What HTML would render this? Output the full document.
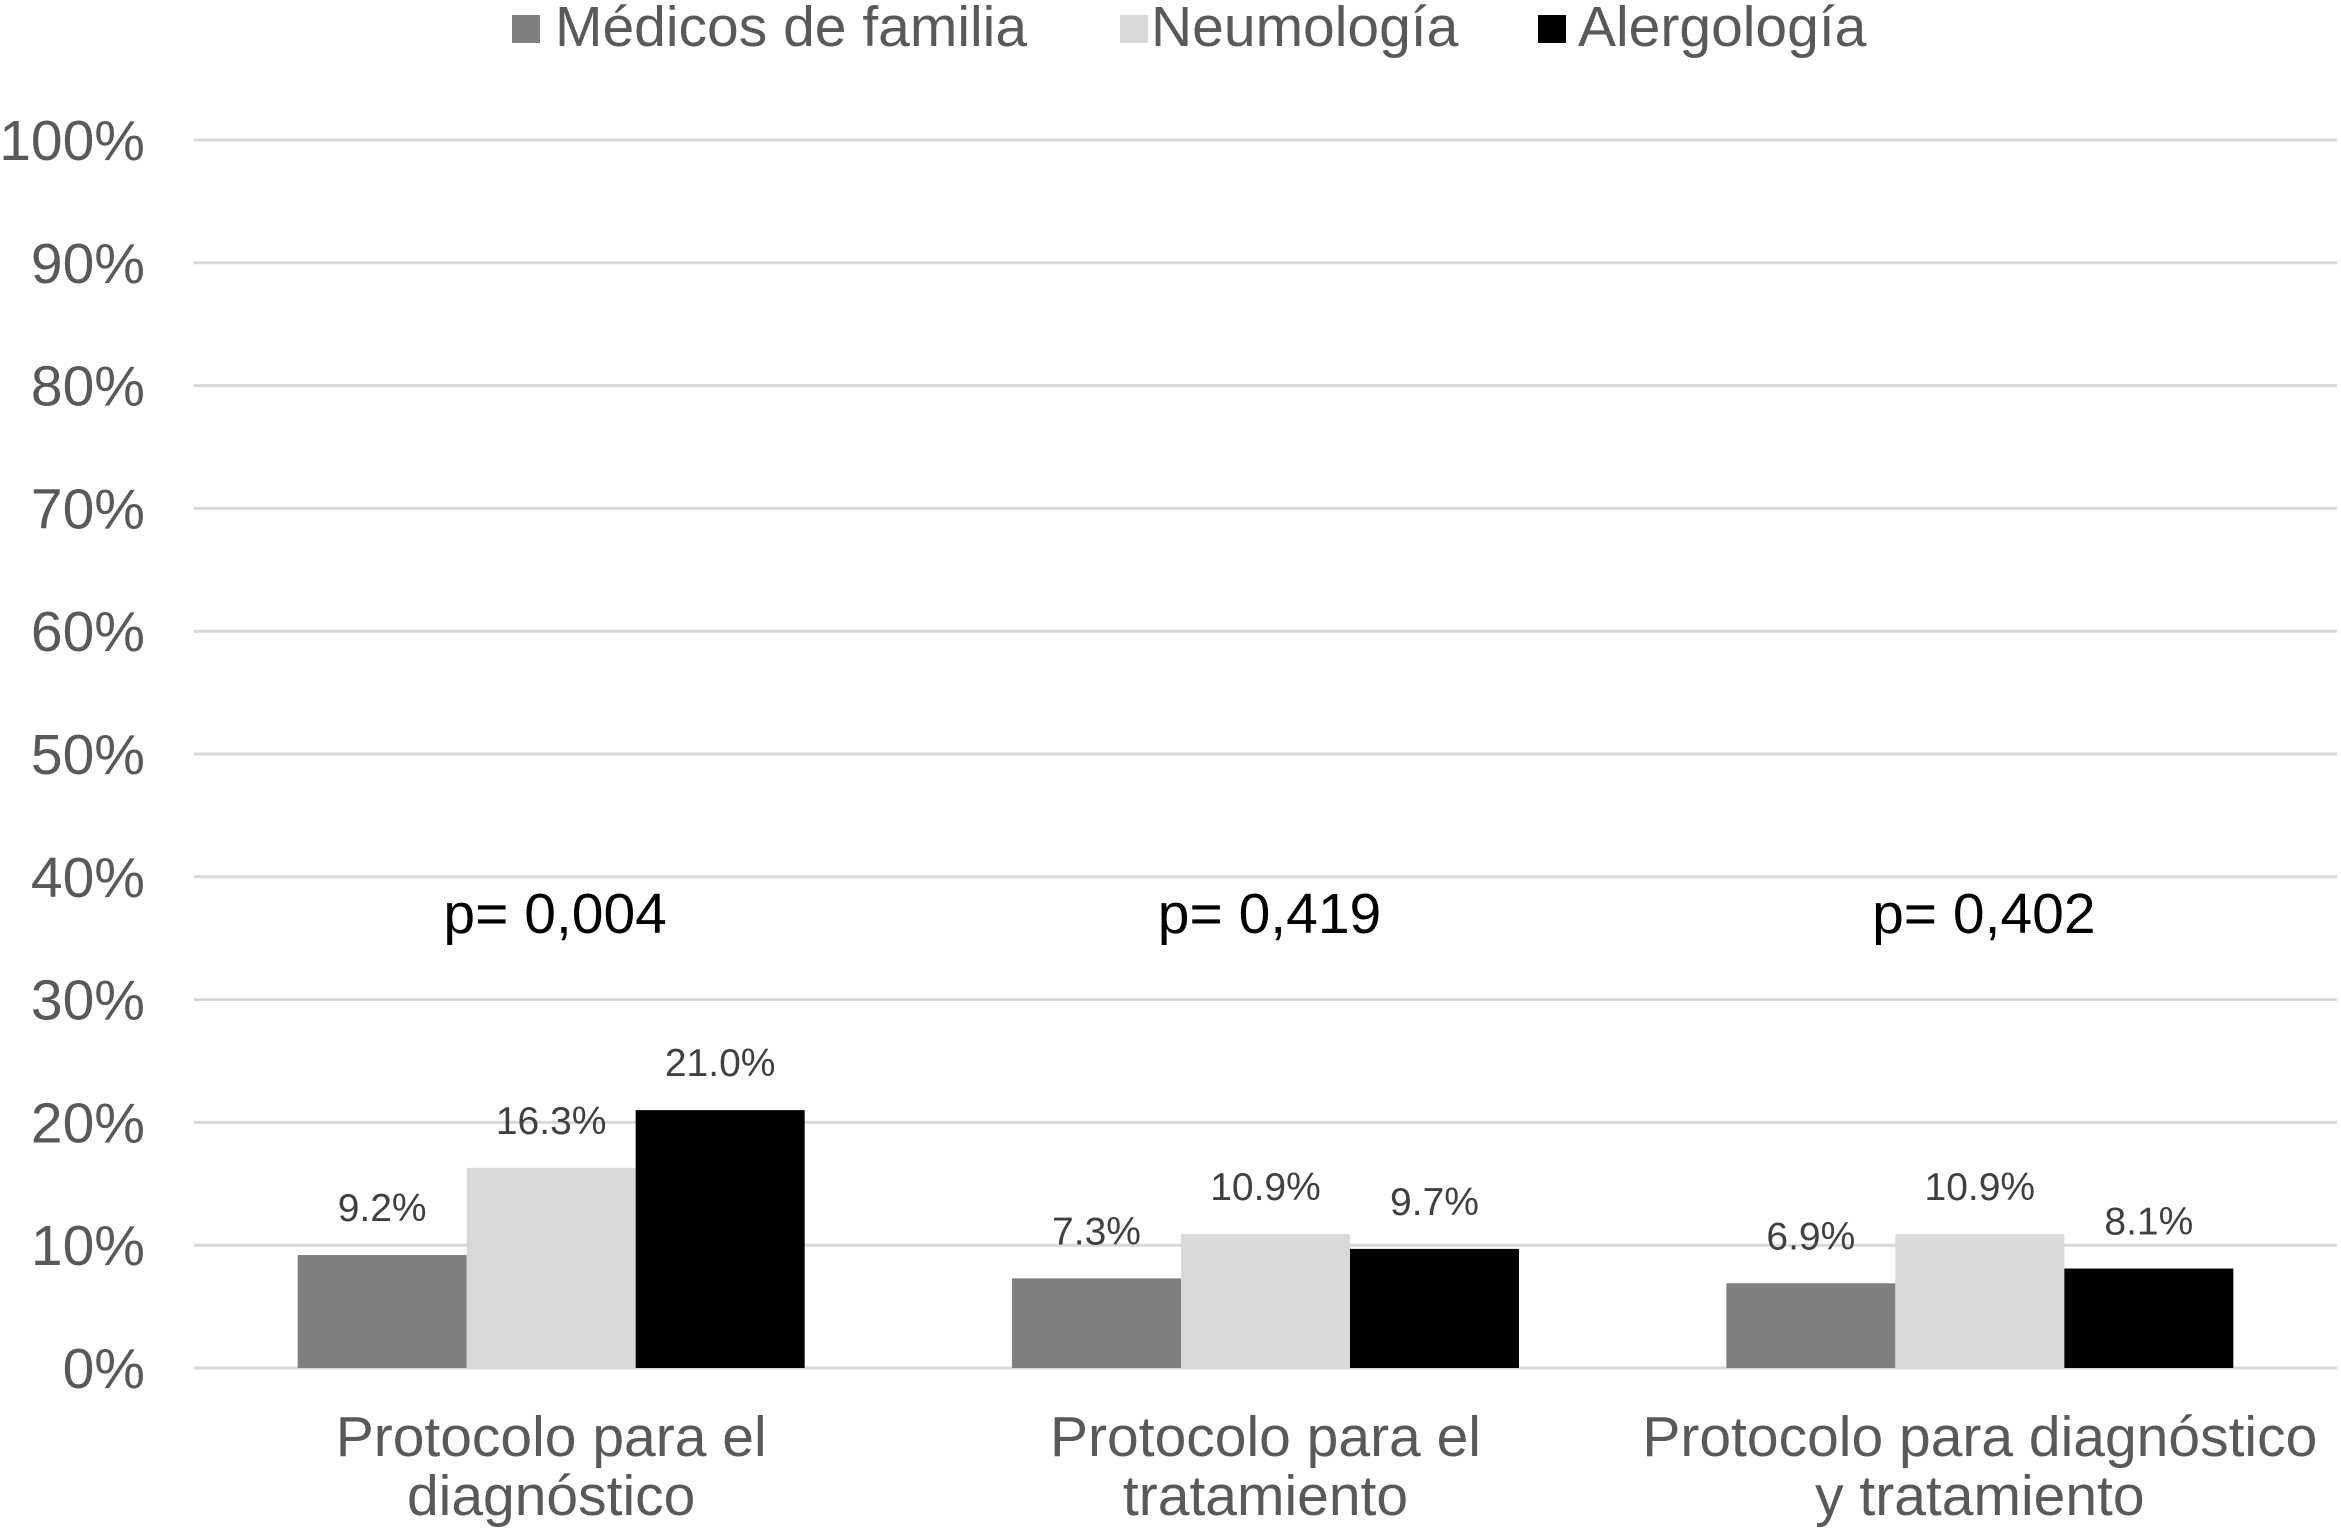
<!DOCTYPE html>
<html><head><meta charset="utf-8"><style>
body{margin:0;background:#fff}
svg{display:block;font-family:"Liberation Sans",Arial,sans-serif}
</style></head><body>
<svg id="chart" width="2341" height="1538" viewBox="0 0 2341 1538">
<g id="grid"></g>
<g id="yticks"></g>
<g id="bars"></g>
<g id="cats"></g>
<g id="legend"></g>
</svg>
<script>
const categories=[["Protocolo para el","diagnóstico"],["Protocolo para el","tratamiento"],["Protocolo para diagnóstico","y tratamiento"]];
const seriesNames=["Médicos de familia","Neumología","Alergología"];
const medicos=[9.2,7.3,6.9];
const neumo=[16.3,10.9,10.9];
const alerg=[21.0,9.7,8.1];
const pValues=["p= 0,004","p= 0,419","p= 0,402"];
const yTicks=[0,10,20,30,40,50,60,70,80,90,100];
const colors=["#7f7f7f","#d9d9d9","#000000"];
const series=[medicos,neumo,alerg];
const NS="http://www.w3.org/2000/svg";
const L=194,R=2337,T=140,B=1368;
const y=v=>B-(B-T)*v/100;
const cw=(R-L)/categories.length, bw=169;
const x=(c,s)=>L+cw*c+cw/2-1.5*bw+s*bw;
function mk(tag,parent,attrs,txt){const e=document.createElementNS(NS,tag);for(const k in attrs)e.setAttribute(k,attrs[k]);if(txt!==undefined)e.textContent=txt;document.getElementById(parent).appendChild(e);return e;}
yTicks.forEach(t=>{
 let g=mk('line','grid',{x1:L,x2:R,y1:y(t),y2:y(t),stroke:'#d9d9d9','stroke-width':3});
 
 
 let l=mk('text','yticks',{x:145,y:y(t)+20,'text-anchor':'end','font-size':57,fill:'#595959'},t+'%');
 
 
});
series.forEach((s,si)=>s.forEach((v,ci)=>{
 let r=mk('rect','bars',{x:x(ci,si),y:y(v),width:bw,height:B-y(v),fill:colors[si]});
 
 
 let t=mk('text','bars',{x:x(ci,si)+bw/2,y:y(v)-34,'text-anchor':'middle','font-size':39,fill:'#404040'},v.toFixed(1)+'%');
 
 
}));
categories.forEach((c,ci)=>{
 const cx=L+cw*ci+cw/2;
 c.forEach((line,li)=>{
  let t=mk('text','cats',{x:cx,y:1456+li*59,'text-anchor':'middle','font-size':57,fill:'#595959'},line);
  
  
 });
 let p=mk('text','cats',{x:cx+4,y:933,'text-anchor':'middle','font-size':57,fill:'#000'},pValues[ci]);
 
 
});
const lx=[512,1120,1538];
const tx=[555,1151,1578];
seriesNames.forEach((n,i)=>{
 let r=mk('rect','legend',{x:lx[i],y:15,width:28,height:28,fill:colors[i]});
 
 
 let t=mk('text','legend',{x:tx[i],y:46,'font-size':57,fill:'#595959'},n);
 
 
});
</script>
</body></html>
